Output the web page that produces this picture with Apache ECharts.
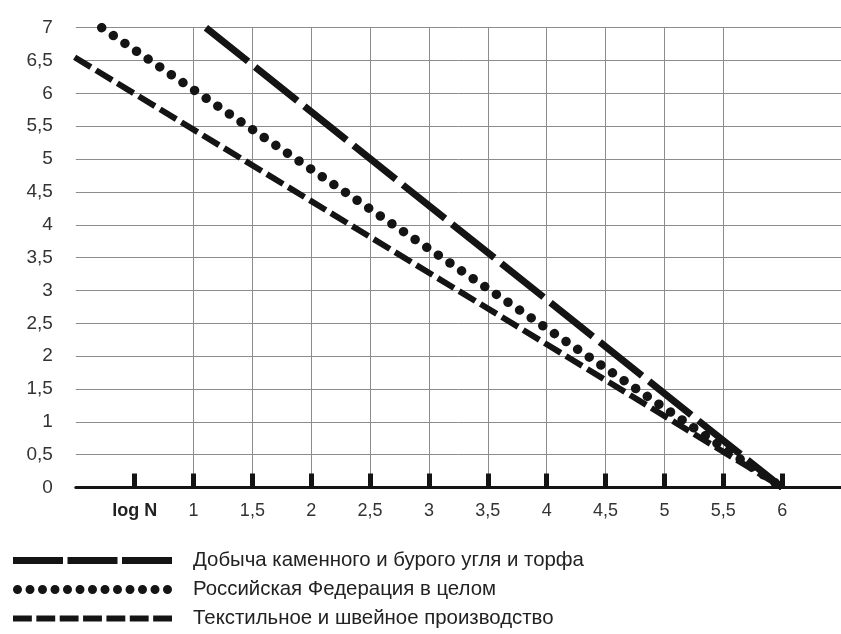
<!DOCTYPE html>
<html>
<head>
<meta charset="utf-8">
<script src="https://cdn.jsdelivr.net/npm/echarts@6/dist/echarts.min.js"></script>
<style>
html,body{margin:0;padding:0;background:#fff;}
#chart{width:841px;height:634px;}
</style>
</head>
<body>
<div id="chart"></div>
<script>
// ---- data ----
const seriesNames = [
  'Добыча каменного и бурого угля и торфа',
  'Российская Федерация в целом',
  'Текстильное и швейное производство'
];
const coalLine = [[1.105, 7], [6, 0]];
const russiaLine = [[0.22, 7], [6, 0]];
const textileLine = [[-0.01, 6.55], [6, 0]];
const xTickValues = [0.5, 1, 1.5, 2, 2.5, 3, 3.5, 4, 4.5, 5, 5.5, 6];
const xTickLabels = ['log N', '1', '1,5', '2', '2,5', '3', '3,5', '4', '4,5', '5', '5,5', '6'];

const fontFamily = '"Liberation Sans", Arial, Helvetica, sans-serif';
const ink = '#141414';

// legend icons (pattern swatches)
function rects(n, w, gap, h) {
  let p = '';
  for (let i = 0; i < n; i++) {
    const x = i * (w + gap);
    p += 'M' + x + ',0H' + (x + w) + 'V' + h + 'H' + x + 'Z';
  }
  return 'path://' + p;
}
function dots(n, step, r) {
  let p = '';
  for (let i = 0; i < n; i++) {
    const cx = r + i * step;
    p += 'M' + (cx - r) + ',' + r + 'A' + r + ',' + r + ' 0 1,0 ' + (cx + r) + ',' + r +
         'A' + r + ',' + r + ' 0 1,0 ' + (cx - r) + ',' + r + 'Z';
  }
  return 'path://' + p;
}

const chart = echarts.init(document.getElementById('chart'), null, {renderer: 'canvas'});
chart.setOption({
  backgroundColor: '#ffffff',
  animation: false,
  color: [ink, ink, ink],
  textStyle: {fontFamily: fontFamily},
  grid: {left: 75.8, right: -4.4, top: 27.7, bottom: 146.5, containLabel: false},
  legend: {
    orient: 'vertical',
    left: 13,
    top: 546,
    height: 100,
    padding: 0,
    itemWidth: 159,
    itemHeight: 9,
    itemGap: 0,
    symbolKeepAspect: true,
    selectedMode: false,
    itemStyle: {color: ink, borderWidth: 0},
    textStyle: {
      fontFamily: fontFamily,
      fontSize: 20.4,
      color: '#222',
      lineHeight: 29,
      padding: [0, 0, 0, 16]
    },
    data: [
      {name: seriesNames[0], icon: rects(3, 50, 4.5, 7)},
      {name: seriesNames[1], icon: dots(13, 12.5, 4.5)},
      {name: seriesNames[2], icon: rects(7, 18.8, 4.5, 6)}
    ]
  },
  xAxis: {
    type: 'value',
    min: 0,
    max: 6.5,
    interval: 0.5,
    axisLine: {show: true, lineStyle: {color: ink, width: 3}},
    axisTick: {
      show: true,
      inside: true,
      length: 14,
      customValues: xTickValues,
      lineStyle: {color: ink, width: 5}
    },
    splitLine: {show: true, showMinLine: false, showMaxLine: false, lineStyle: {color: '#8c8c8c', width: 1}},
    axisLabel: {
      customValues: xTickValues,
      margin: 15,
      fontSize: 18,
      color: '#333',
      fontFamily: fontFamily,
      formatter: function (v) {
        const i = xTickValues.indexOf(v);
        const t = i >= 0 ? xTickLabels[i] : '';
        return i === 0 ? '{b|' + t + '}' : t;
      },
      rich: {b: {fontWeight: 'bold', fontSize: 18, color: '#222', fontFamily: fontFamily}}
    }
  },
  yAxis: {
    type: 'value',
    min: 0,
    max: 7,
    interval: 0.5,
    axisLine: {show: false},
    axisTick: {show: false},
    splitLine: {show: true, lineStyle: {color: '#8c8c8c', width: 1}},
    axisLabel: {
      margin: 23,
      fontSize: 19,
      color: '#333',
      fontFamily: fontFamily,
      formatter: function (v) { return String(v).replace('.', ','); }
    }
  },
  series: [
    {
      name: seriesNames[0], type: 'line', data: coalLine, symbol: 'none', silent: true,
      itemStyle: {color: ink},
      lineStyle: {color: ink, width: 7, type: [54, 9], cap: 'butt'}
    },
    {
      name: seriesNames[1], type: 'line', data: russiaLine, symbol: 'none', silent: true,
      itemStyle: {color: ink},
      lineStyle: {color: ink, width: 9.5, type: [0.01, 14], cap: 'round'}
    },
    {
      name: seriesNames[2], type: 'line', data: textileLine, symbol: 'none', silent: true,
      itemStyle: {color: ink},
      lineStyle: {color: ink, width: 6, type: [19, 6], cap: 'butt'}
    }
  ]
});
</script>
</body>
</html>
